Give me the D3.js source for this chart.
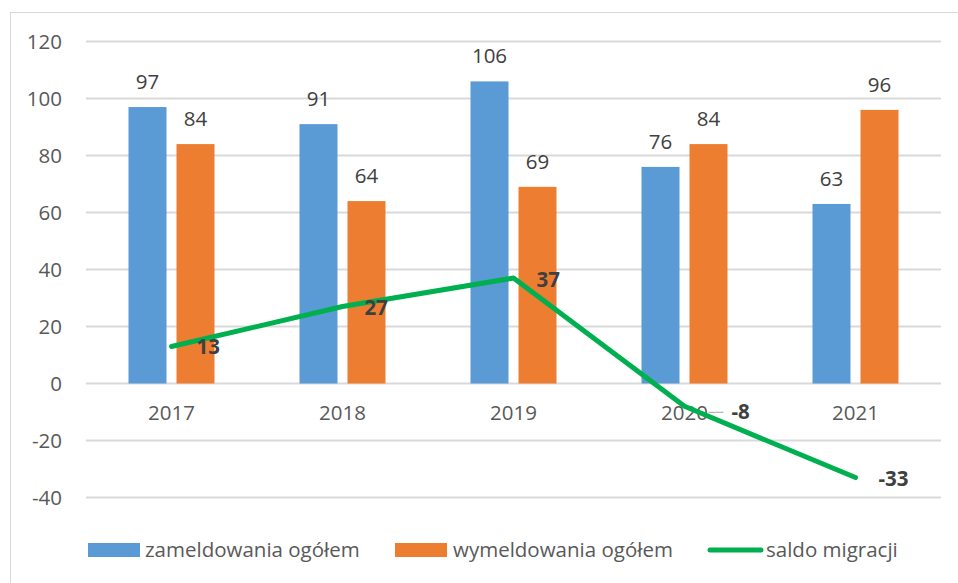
<!DOCTYPE html>
<html>
<head>
<meta charset="utf-8">
<script src="https://cdn.jsdelivr.net/npm/d3@7"></script>
<style>
  body { margin: 0; background: #fff; }
  svg text { font-family: "Open Sans", sans-serif; }
</style>
</head>
<body>
<svg id="chart" width="958" height="583"></svg>
<script>
var years = ['2017', '2018', '2019', '2020', '2021'];
var zameldowania = [97, 91, 106, 76, 63];
var wymeldowania = [84, 64, 69, 84, 96];
var saldo = [13, 27, 37, -8, -33];
var yTicks = [-40, -20, 0, 20, 40, 60, 80, 100, 120];
var seriesNames = ['zameldowania ogółem', 'wymeldowania ogółem', 'saldo migracji'];

var svg = d3.select('#chart');
var fontSize = '20.5px';

// outer chart border (runs off right/bottom like the screenshot)
svg.append('rect')
  .attr('x', 10.5).attr('y', 12.5)
  .attr('width', 1000).attr('height', 1000)
  .style('fill', 'none')
  .style('stroke', '#d9d9d9');

var x = d3.scaleBand().domain(years).range([86, 941]);
var y = d3.scaleLinear().domain([-40, 120]).range([497.5, 41.5]);

// gridlines
svg.append('g').selectAll('line')
  .data(yTicks)
  .enter().append('line')
  .attr('x1', 86).attr('x2', 941)
  .attr('y1', function(d) { return y(d); })
  .attr('y2', function(d) { return y(d); })
  .style('stroke', '#d9d9d9')
  .style('stroke-width', 2);

// y tick labels (plain hyphen for negatives)
var yAxis = svg.append('g')
  .attr('transform', 'translate(62,0)')
  .call(d3.axisLeft(y).tickValues(yTicks).tickFormat(String).tickSize(0).tickPadding(0));
yAxis.select('.domain').remove();
yAxis.selectAll('text')
  .style('font-size', fontSize)
  .style('fill', '#595959')
  .style('font-family', '"Open Sans", sans-serif');

// category labels
var xAxis = svg.append('g')
  .attr('transform', 'translate(0,' + (y(0) + 22) + ')')
  .call(d3.axisBottom(x).tickSize(0).tickPadding(0));
xAxis.select('.domain').remove();
xAxis.selectAll('text')
  .style('font-size', fontSize)
  .style('fill', '#595959')
  .style('font-family', '"Open Sans", sans-serif');

// bars
var barW = 38, gap = 10;
var groups = [
  { values: zameldowania, color: '#5b9bd5', offset: -(barW + gap) / 2 },
  { values: wymeldowania, color: '#ed7d31', offset: (barW + gap) / 2 }
];

groups.forEach(function(g) {
  var bars = svg.append('g');
  bars.selectAll('rect')
    .data(g.values)
    .enter().append('rect')
    .attr('x', function(d, i) { return x(years[i]) + x.bandwidth() / 2 + g.offset - barW / 2; })
    .attr('y', function(d) { return y(d); })
    .attr('width', barW)
    .attr('height', function(d) { return y(0) - y(d); })
    .style('fill', g.color);

  bars.selectAll('text')
    .data(g.values)
    .enter().append('text')
    .attr('x', function(d, i) { return x(years[i]) + x.bandwidth() / 2 + g.offset; })
    .attr('y', function(d) { return y(d) - 18; })
    .attr('text-anchor', 'middle')
    .style('font-size', fontSize)
    .style('fill', '#404040')
    .text(function(d) { return d; });
});

// leader line for the -8 label
var cx = function(i) { return x(years[i]) + x.bandwidth() / 2; };
svg.append('line')
  .attr('x1', cx(3) + 24).attr('x2', cx(3) + 39)
  .attr('y1', y(saldo[3]) + 6).attr('y2', y(saldo[3]) + 6)
  .style('stroke', '#a6a6a6')
  .style('stroke-width', 1);

// saldo line
var line = d3.line()
  .x(function(d, i) { return cx(i); })
  .y(function(d) { return y(d); });

svg.append('path')
  .datum(saldo)
  .attr('d', line)
  .style('fill', 'none')
  .style('stroke', '#00b050')
  .style('stroke-width', 5)
  .style('stroke-linecap', 'round')
  .style('stroke-linejoin', 'round');

// saldo labels
var labelDx = [25, 22, 23, 47, 23];
var labelDy = [8, 8, 9, 13, 8];
svg.append('g').selectAll('text')
  .data(saldo)
  .enter().append('text')
  .attr('x', function(d, i) { return cx(i) + labelDx[i]; })
  .attr('y', function(d, i) { return y(d) + labelDy[i]; })
  .style('font-size', fontSize)
  .style('font-weight', 'bold')
  .style('fill', '#404040')
  .text(function(d) { return d; });

// legend
var legY = 550;
var leg = svg.append('g');
leg.append('rect').attr('x', 88).attr('y', legY - 7).attr('width', 52).attr('height', 14).style('fill', '#5b9bd5');
leg.append('text').attr('x', 145).attr('y', legY + 7).text(seriesNames[0]);
leg.append('rect').attr('x', 395).attr('y', legY - 7).attr('width', 52).attr('height', 14).style('fill', '#ed7d31');
leg.append('text').attr('x', 453).attr('y', legY + 7).text(seriesNames[1]);
leg.append('line').attr('x1', 710).attr('x2', 761).attr('y1', legY).attr('y2', legY)
  .style('stroke', '#00b050').style('stroke-width', 5).style('stroke-linecap', 'round');
leg.append('text').attr('x', 766).attr('y', legY + 7).text(seriesNames[2]);
leg.selectAll('text')
  .style('font-size', fontSize)
  .style('fill', '#595959');
</script>
</body>
</html>
